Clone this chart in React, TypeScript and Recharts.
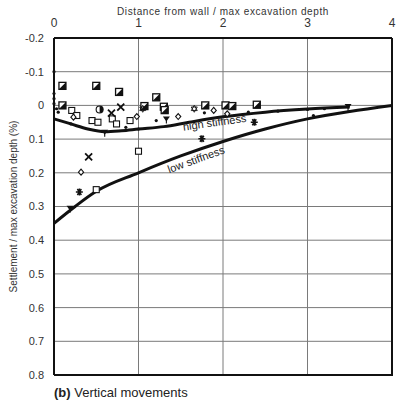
import React from "react";
import {
  ComposedChart,
  Line,
  XAxis,
  YAxis,
  CartesianGrid,
  ReferenceLine,
} from "recharts";

// x = distance from wall / max excavation depth, y = settlement / depth (%)
const highStiffness = [
  { x: 0, y: 0.04 },
  { x: 0.2, y: 0.055 },
  { x: 0.4, y: 0.07 },
  { x: 0.6, y: 0.078 },
  { x: 0.8, y: 0.075 },
  { x: 1.0, y: 0.07 },
  { x: 1.3, y: 0.063 },
  { x: 1.6, y: 0.05 },
  { x: 2.0, y: 0.034 },
  { x: 2.5, y: 0.02 },
  { x: 3.0, y: 0.011 },
  { x: 3.5, y: 0.005 },
];

const lowStiffness = [
  { x: 0, y: 0.35 },
  { x: 0.25, y: 0.3 },
  { x: 0.5, y: 0.255 },
  { x: 1.0, y: 0.2 },
  { x: 1.5, y: 0.15 },
  { x: 2.0, y: 0.107 },
  { x: 2.5, y: 0.07 },
  { x: 3.0, y: 0.04 },
  { x: 3.5, y: 0.018 },
  { x: 4.0, y: 0.0 },
];

const halfSquares = [
  { x: 0.1, y: -0.058 },
  { x: 0.5, y: -0.058 },
  { x: 0.77, y: -0.04 },
  { x: 1.21, y: -0.024 },
  { x: 0.1, y: 0.0 },
  { x: 1.07, y: 0.002 },
  { x: 1.3, y: 0.004 },
  { x: 1.31, y: 0.014 },
  { x: 1.79, y: 0.0 },
  { x: 2.03, y: 0.0 },
  { x: 2.11, y: 0.002 },
  { x: 2.4, y: -0.002 },
];

const openSquares = [
  { x: 0.21, y: 0.015 },
  { x: 0.27, y: 0.03 },
  { x: 0.45, y: 0.045 },
  { x: 0.52, y: 0.05 },
  { x: 0.69, y: 0.04 },
  { x: 0.74, y: 0.055 },
  { x: 0.9, y: 0.045 },
  { x: 0.5, y: 0.25 },
  { x: 1.0, y: 0.136 },
];

const crosses = [
  { x: 0.79, y: 0.005 },
  { x: 0.68, y: 0.023 },
  { x: 0.41, y: 0.153 },
];

const diamonds = [
  { x: 0.23, y: 0.035 },
  { x: 0.32, y: 0.198 },
  { x: 1.47, y: 0.033 },
  { x: 1.89, y: 0.015 },
  { x: 2.05, y: 0.025 },
  { x: 0.98, y: 0.033 },
];

const halfCircles = [{ x: 0.54, y: 0.012 }];

const asterisks = [
  { x: 0.3, y: 0.257 },
  { x: 1.75, y: 0.099 },
  { x: 2.37, y: 0.05 },
];

const triangles = [
  { x: 0.19, y: 0.305 },
  { x: 1.33, y: 0.04 },
  { x: 3.48, y: 0.003 },
  { x: 0.6, y: 0.08 },
];

const stars = [
  { x: 1.66, y: 0.01 },
  { x: 1.05, y: 0.01 },
];

const dots = [
  { x: 0, y: -0.1 },
  { x: 0, y: -0.035 },
  { x: 0, y: -0.02 },
  { x: 0, y: -0.005 },
  { x: 0.03, y: 0.01 },
  { x: 0.05, y: 0.02 },
  { x: 1.21, y: 0.045 },
  { x: 0.85, y: 0.065 },
  { x: 1.78, y: 0.022 },
  { x: 2.3, y: 0.02 },
  { x: 2.65, y: 0.017 },
  { x: 3.0, y: 0.012 },
  { x: 3.07, y: 0.03 },
  { x: 3.2, y: 0.01 },
  { x: 1.0, y: 0.07 },
  { x: 0.2, y: 0.055 },
];

// curve annotations (position in data units)
const highLabel = [{ x: 1.9, y: 0.05 }];
const lowLabel = [{ x: 1.68, y: 0.16 }];

const xTicks = [0, 1, 2, 3, 4];
const yTicks = [-0.2, -0.1, 0, 0.1, 0.2, 0.3, 0.4, 0.5, 0.6, 0.7, 0.8];

const xMin = xTicks[0];
const xMax = xTicks[xTicks.length - 1];
const yMin = yTicks[0];
const yMax = yTicks[yTicks.length - 1];

const ink = "#111";
const font = "Liberation Sans, Arial, sans-serif";

const frame = [
  { x: xMax, y: yMin },
  { x: xMax, y: yMax },
  { x: xMin, y: yMax },
];

const HalfSquare = (p: any) => {
  const s = 3.5;
  return (
    <g key={p.key}>
      <rect x={p.cx - s} y={p.cy - s} width={2 * s} height={2 * s} fill="#fff" stroke={ink} strokeWidth={1.3} />
      <path d={`M${p.cx + s},${p.cy - s} L${p.cx + s},${p.cy + s} L${p.cx - s},${p.cy + s} Z`} fill={ink} />
    </g>
  );
};

const OpenSquare = (p: any) => (
  <rect key={p.key} x={p.cx - 3} y={p.cy - 3} width={6} height={6} fill="#fff" stroke={ink} strokeWidth={1.1} />
);

const Cross = (p: any) => (
  <path
    key={p.key}
    d={`M${p.cx - 3.5},${p.cy - 3.5} L${p.cx + 3.5},${p.cy + 3.5} M${p.cx + 3.5},${p.cy - 3.5} L${p.cx - 3.5},${p.cy + 3.5}`}
    stroke={ink}
    strokeWidth={1.8}
  />
);

const Diamond = (p: any) => (
  <path
    key={p.key}
    d={`M${p.cx},${p.cy - 3} L${p.cx + 2.6},${p.cy} L${p.cx},${p.cy + 3} L${p.cx - 2.6},${p.cy} Z`}
    fill="#fff"
    stroke={ink}
    strokeWidth={1.1}
  />
);

const HalfCircle = (p: any) => (
  <g key={p.key}>
    <circle cx={p.cx} cy={p.cy} r={3.5} fill="#fff" stroke={ink} strokeWidth={1.1} />
    <path d={`M${p.cx},${p.cy - 3.5} A3.5,3.5 0 0 1 ${p.cx},${p.cy + 3.5} Z`} fill={ink} />
  </g>
);

const Asterisk = (p: any) => (
  <path
    key={p.key}
    d={`M${p.cx - 3.5},${p.cy} L${p.cx + 3.5},${p.cy} M${p.cx - 2},${p.cy - 3} L${p.cx + 2},${p.cy + 3} M${p.cx + 2},${p.cy - 3} L${p.cx - 2},${p.cy + 3} M${p.cx},${p.cy - 3.5} L${p.cx},${p.cy + 3.5}`}
    stroke={ink}
    strokeWidth={1.4}
  />
);

const TriangleDown = (p: any) => (
  <g key={p.key}>
    <path d={`M${p.cx - 3.5},${p.cy - 2.5} L${p.cx + 3.5},${p.cy - 2.5} L${p.cx},${p.cy + 2.5} Z`} fill={ink} />
    <line x1={p.cx} y1={p.cy} x2={p.cx} y2={p.cy + 4.5} stroke={ink} strokeWidth={1.1} />
  </g>
);

const Star = (p: any) => (
  <g key={p.key} fill="none" stroke={ink} strokeWidth={0.9}>
    <path d={`M${p.cx},${p.cy - 3.5} L${p.cx + 3},${p.cy + 1.8} L${p.cx - 3},${p.cy + 1.8} Z`} />
    <path d={`M${p.cx},${p.cy + 3.5} L${p.cx + 3},${p.cy - 1.8} L${p.cx - 3},${p.cy - 1.8} Z`} />
  </g>
);

const Dot = (p: any) => <circle key={p.key} cx={p.cx} cy={p.cy} r={1.6} fill={ink} />;

const curveLabel = (text: string, angle: number) => (p: any) => (
  <text
    key={p.key}
    x={p.cx}
    y={p.cy}
    transform={`rotate(${angle} ${p.cx} ${p.cy})`}
    textAnchor="middle"
    dominantBaseline="central"
    fontSize={11}
    fill="#222"
    fontFamily={font}
  >
    {text}
  </text>
);

const YLabel = (props: any) => {
  const vb = props.viewBox;
  const cy = vb.y + vb.height / 2;
  return (
    <text
      x={13}
      y={cy}
      transform={`rotate(-90 13 ${cy})`}
      textAnchor="middle"
      dominantBaseline="central"
      fontSize={10}
      fill="#333"
      fontFamily={font}
    >
      Settlement / max excavation depth (%)
    </text>
  );
};

const markerSets: [any[], (p: any) => any][] = [
  [halfSquares, HalfSquare],
  [openSquares, OpenSquare],
  [crosses, Cross],
  [diamonds, Diamond],
  [halfCircles, HalfCircle],
  [asterisks, Asterisk],
  [triangles, TriangleDown],
  [stars, Star],
  [dots, Dot],
  [highLabel, curveLabel("high stiffness", -8)],
  [lowLabel, curveLabel("low stiffness", -20)],
];

export default function App() {
  return (
    <>
      <style>{"body { margin: 0; background: #fff; }"}</style>
      <ComposedChart width={398} height={380} margin={{ top: 0, right: 6, bottom: 5, left: 0 }}>
        <CartesianGrid stroke="#7a7a7a" />
        <XAxis
          type="number"
          dataKey="x"
          orientation="top"
          domain={[xMin, xMax]}
          ticks={xTicks}
          height={38}
          tickLine={false}
          tickSize={6}
          tickMargin={5}
          axisLine={{ stroke: ink, strokeWidth: 2 }}
          tick={{ fontSize: 12, fill: "#333", fontFamily: font }}
          label={{
            value: "Distance from wall / max excavation depth",
            position: "insideTop",
            offset: 8,
            fontSize: 10,
            fill: "#333",
            letterSpacing: 0.6,
            fontFamily: font,
          }}
        />
        <YAxis
          type="number"
          dataKey="y"
          reversed
          domain={[yMin, yMax]}
          ticks={yTicks}
          width={54}
          tickLine={false}
          tickSize={4}
          tickMargin={6}
          interval={0}
          axisLine={{ stroke: ink, strokeWidth: 2 }}
          tick={{ fontSize: 11, fill: "#333", fontFamily: font }}
          tickFormatter={(v: number) => (v === 0 ? "0" : v.toFixed(1))}
          label={{ content: YLabel }}
        />
        <ReferenceLine x={xMax} stroke={ink} strokeWidth={2} />
        <ReferenceLine y={yMax} stroke={ink} strokeWidth={2} />
        <Line data={frame} dataKey="y" stroke={ink} strokeWidth={2} dot={false} activeDot={false} isAnimationActive={false} />
        <Line
          data={lowStiffness}
          dataKey="y"
          type="monotone"
          stroke={ink}
          strokeWidth={3}
          dot={false}
          activeDot={false}
          isAnimationActive={false}
        />
        <Line
          data={highStiffness}
          dataKey="y"
          type="monotone"
          stroke={ink}
          strokeWidth={3}
          dot={false}
          activeDot={false}
          isAnimationActive={false}
        />
        {markerSets.map(([d, shape], i) => (
          <Line
            key={`m${i}`}
            data={d}
            dataKey="y"
            stroke="none"
            dot={shape}
            activeDot={false}
            isAnimationActive={false}
          />
        ))}
      </ComposedChart>
      <div
        style={{
          marginLeft: 54,
          marginTop: 5,
          fontSize: 13,
          lineHeight: "15px",
          color: "#222",
          whiteSpace: "nowrap",
          fontFamily: font,
        }}
      >
        <b>(b)</b> Vertical movements
      </div>
    </>
  );
}
